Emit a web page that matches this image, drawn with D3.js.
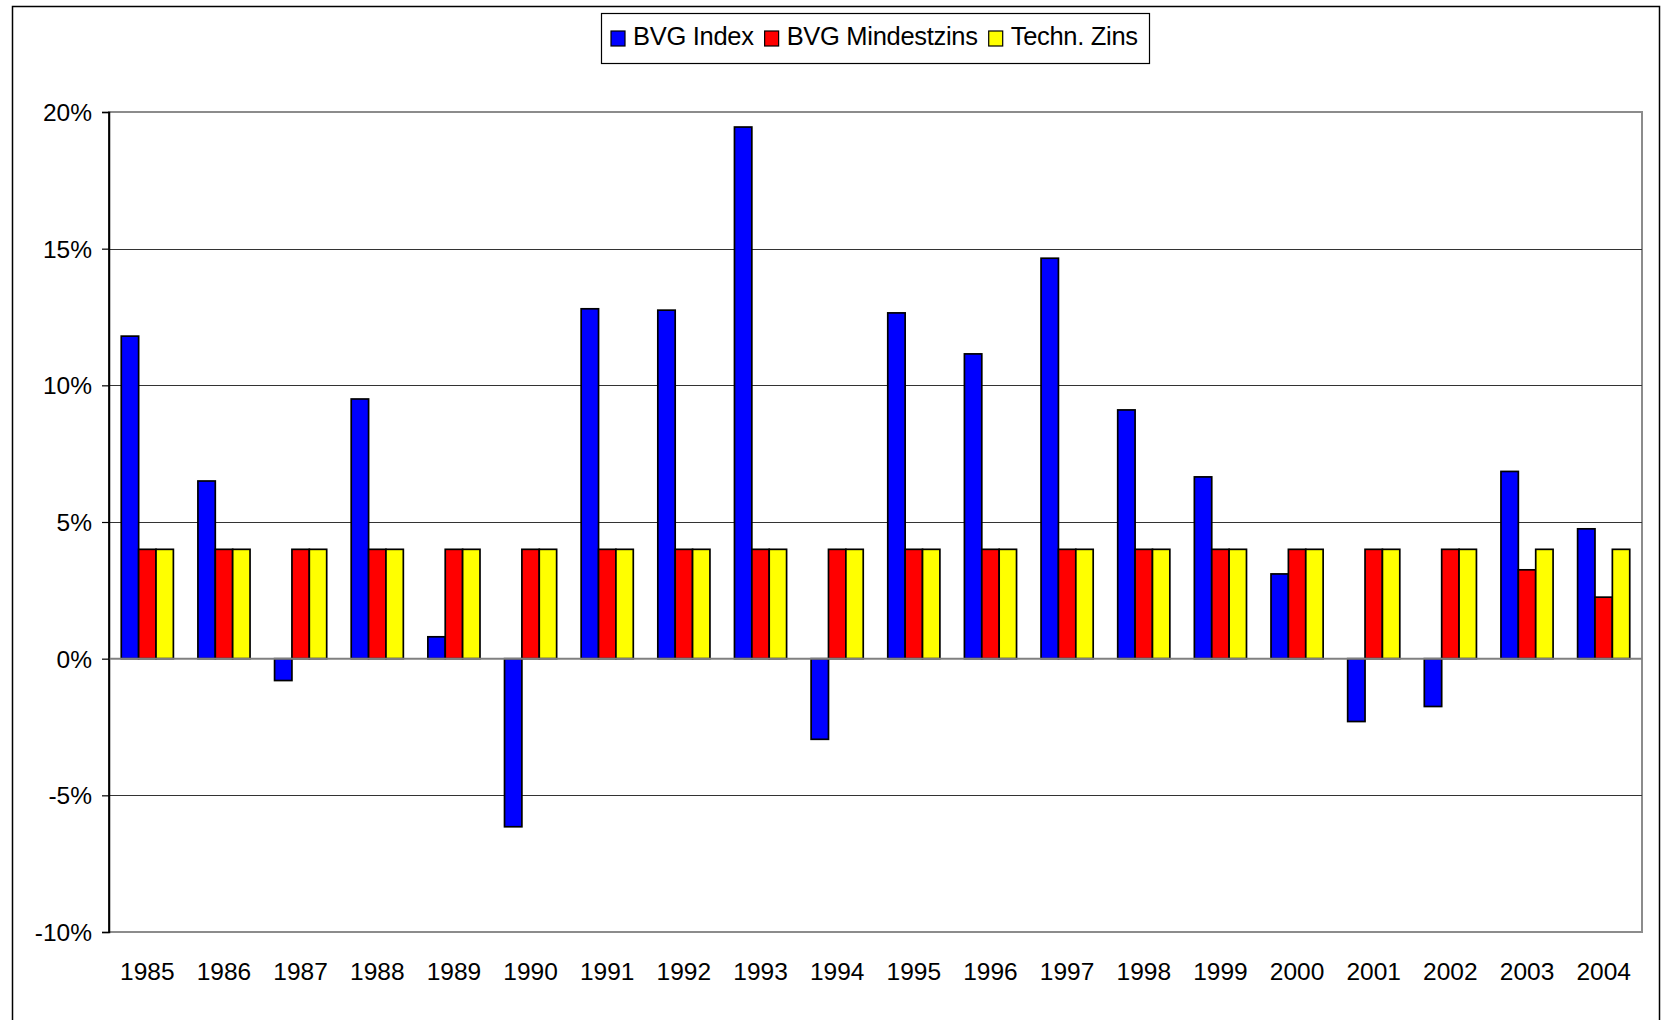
<!DOCTYPE html>
<html>
<head>
<meta charset="utf-8">
<script src="https://cdn.jsdelivr.net/npm/d3@7"></script>
<style>
  html, body { margin: 0; padding: 0; background: #fff; }
  svg { display: block; font-family: "Liberation Sans", Arial, sans-serif; }
</style>
</head>
<body>
<svg id="chart" width="1662" height="1020"></svg>
<script>
const years = ["1985","1986","1987","1988","1989","1990","1991","1992","1993","1994",
               "1995","1996","1997","1998","1999","2000","2001","2002","2003","2004"];
const seriesNames = ["BVG Index", "BVG Mindestzins", "Techn. Zins"];
const seriesColors = ["#0000FF", "#FF0000", "#FFFF00"];
const bvgIndex = [11.8, 6.5, -0.8, 9.5, 0.8, -6.15, 12.8, 12.75, 19.45, -2.95,
                  12.65, 11.15, 14.65, 9.1, 6.65, 3.1, -2.3, -1.75, 6.85, 4.75];
const bvgMindestzins = [4, 4, 4, 4, 4, 4, 4, 4, 4, 4, 4, 4, 4, 4, 4, 4, 4, 4, 3.25, 2.25];
const technZins = [4, 4, 4, 4, 4, 4, 4, 4, 4, 4, 4, 4, 4, 4, 4, 4, 4, 4, 4, 4];
const yTicks = [-10, -5, 0, 5, 10, 15, 20];

const seriesValues = [bvgIndex, bvgMindestzins, technZins];

const svg = d3.select("#chart");
const plot = { left: 109, right: 1642, top: 112, bottom: 932 };

// Outer frame
svg.append("rect")
  .attr("x", 12.5).attr("y", 6.5)
  .attr("width", 1647).attr("height", 1030)
  .attr("fill", "#fff").attr("stroke", "#000").attr("stroke-width", 1.5);

const x = d3.scaleBand().domain(years).range([plot.left, plot.right]).paddingInner(0.32).paddingOuter(0.16);
const xs = d3.scaleBand().domain(d3.range(3)).range([0, x.bandwidth()]);
const y = d3.scaleLinear().domain([-10, 20]).range([plot.bottom, plot.top]);

// Plot area border (grey)
svg.append("rect")
  .attr("x", plot.left).attr("y", plot.top)
  .attr("width", plot.right - plot.left).attr("height", plot.bottom - plot.top)
  .attr("fill", "none").attr("stroke", "#8c8c8c").attr("stroke-width", 2);

// Gridlines
svg.append("g").selectAll("line")
  .data(yTicks.filter(t => t !== -10 && t !== 20 && t !== 0))
  .join("line")
  .attr("x1", plot.left).attr("x2", plot.right)
  .attr("y1", d => Math.round(y(d)) + 0.5).attr("y2", d => Math.round(y(d)) + 0.5)
  .attr("stroke", "#333").attr("stroke-width", 1);

// Y axis
const yAxis = d3.axisLeft(y).tickValues(yTicks).tickSize(7).tickPadding(10)
  .tickFormat(d => (d < 0 ? "-" : "") + Math.abs(d) + "%");
const ga = svg.append("g").attr("transform", `translate(${plot.left},0)`).call(yAxis);
ga.select(".domain").attr("stroke", "#000").attr("stroke-width", 1.5);
ga.selectAll(".tick line").attr("stroke", "#000").attr("stroke-width", 1.2);
ga.selectAll(".tick text").attr("font-size", 24.5).attr("fill", "#000")
  .attr("font-family", "Liberation Sans, Arial, sans-serif").attr("dy", "0.35em");

// Bars
const groups = svg.append("g").selectAll("g")
  .data(years)
  .join("g")
  .attr("transform", d => `translate(${x(d)},0)`);

groups.selectAll("rect")
  .data((yr, i) => seriesValues.map((vals, s) => ({ s, v: vals[i] })))
  .join("rect")
  .attr("x", d => xs(d.s))
  .attr("width", xs.bandwidth())
  .attr("y", d => y(Math.max(0, d.v)))
  .attr("height", d => Math.abs(y(d.v) - y(0)))
  .attr("fill", d => seriesColors[d.s])
  .attr("stroke", "#000").attr("stroke-width", 1.7);

// Zero line
svg.append("line")
  .attr("x1", plot.left).attr("x2", plot.right)
  .attr("y1", y(0)).attr("y2", y(0))
  .attr("stroke", "#808080").attr("stroke-width", 2);

// Redraw left axis line on top
svg.append("line")
  .attr("x1", plot.left).attr("x2", plot.left)
  .attr("y1", plot.top).attr("y2", plot.bottom)
  .attr("stroke", "#000").attr("stroke-width", 1.5);

// X labels
svg.append("g").selectAll("text")
  .data(years)
  .join("text")
  .attr("x", d => x(d) + x.bandwidth() / 2)
  .attr("y", 980)
  .attr("text-anchor", "middle")
  .attr("font-size", 24.5)
  .attr("fill", "#000")
  .text(d => d);

// Legend
const lg = svg.append("g");
lg.append("rect")
  .attr("x", 601.5).attr("y", 13.5).attr("width", 548).attr("height", 50)
  .attr("fill", "#fff").attr("stroke", "#000").attr("stroke-width", 1.2);
let lx = 611;
seriesNames.forEach((name, i) => {
  lg.append("rect")
    .attr("x", lx).attr("y", 31).attr("width", 14).attr("height", 15)
    .attr("fill", seriesColors[i]).attr("stroke", "#000").attr("stroke-width", 1.2);
  const t = lg.append("text")
    .attr("x", lx + 22).attr("y", 45)
    .attr("font-size", 25.5).attr("fill", "#000")
    .attr("letter-spacing", "-0.3")
    .text(name);
  lx = lx + 22 + t.node().getComputedTextLength() + 11;
});
</script>
</body>
</html>
